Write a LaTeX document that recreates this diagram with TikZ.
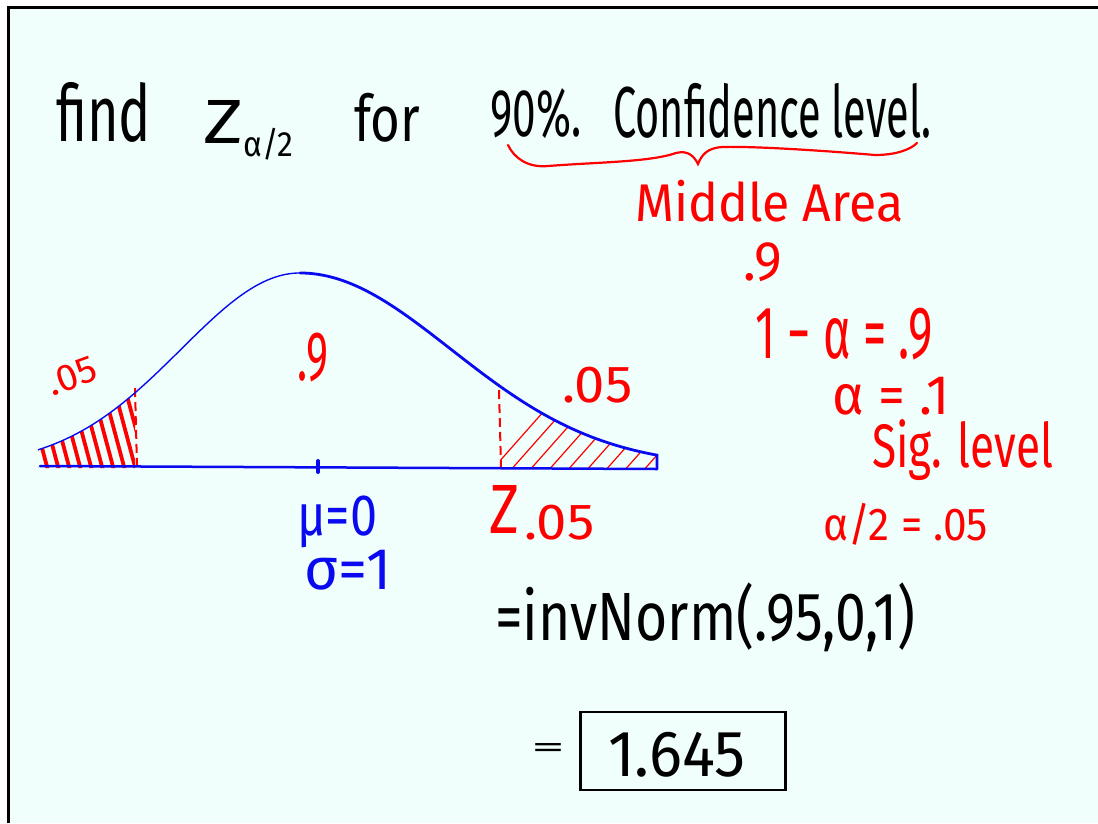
\documentclass[tikz,border=0pt]{standalone}
\usepackage{fontspec}
\usepackage{graphicx}
\newfontfamily\hand{Fira Sans}
\definecolor{board}{RGB}{241,255,252}
\definecolor{penred}{RGB}{255,0,0}
\definecolor{penblue}{RGB}{10,10,240}
\newcommand{\hw}[3]{\resizebox*{#1pt}{#2pt}{\hand #3}}
\begin{document}
\begin{tikzpicture}[x=1pt,y=-1pt,
  handtext/.style={inner sep=0pt, anchor=north west},
  redtext/.style={handtext, text=penred},
  bluetext/.style={handtext, text=penblue},
  hatchthick/.style={penred, line width=3.8pt, line cap=round},
  hatchthin/.style={penred, line width=1.2pt},
  cut/.style={penred, line width=2pt, dash pattern=on 9pt off 5pt}]
\useasboundingbox (0,0) rectangle (1098,823);
\fill[white] (0,0) rectangle (1098,823);
\fill[board] (8,7) rectangle (1098,823);
\draw[black, line width=3pt] (8,823) -- (8,7) -- (1098,7);

% title
\node[handtext] (find) at (56,82) {\hw{95}{60}{find}};
\node[handtext] (z) at (203,100) {\hw{40}{43}{Z}};
\node[handtext] (zsub) at (243,128) {\hw{50}{32}{α/2}};
\node[handtext] (for) at (354,93) {\hw{66}{49}{for}};
\node[handtext] (ninety) at (490,88) {\hw{91}{50}{90\%.}};
\node[handtext] (conf) at (613,83) {\hw{318}{55}{Confidence level.}};
\draw[penred, line width=2.2pt, line cap=round]
  (508,145) .. controls (514,158) and (528,168) .. (548,166)
  .. controls (600,162) and (650,162) .. (676,153)
  .. controls (688,150) and (694,156) .. (698,164)
  .. controls (702,154) and (708,148) .. (722,147)
  .. controls (760,146) and (840,152) .. (875,155)
  .. controls (895,155) and (910,150) .. (917,143);

% right column
\node[redtext] (middle) at (635,180) {\hw{268}{42}{Middle Area}};
\node[redtext] (pt9a) at (743,243) {\hw{39}{39}{.9}};
\node[redtext] (onemin) at (755,308) {\hw{178}{52}{1 − α = .9}};
\node[redtext] (alpha) at (832,377) {\hw{118}{38}{α = .1}};
\node[redtext] (sig) at (872,419) {\hw{181}{61}{Sig. level}};
\node[redtext] (half) at (823,503) {\hw{165}{42}{α/2 = .05}};

% hatching
\begin{scope}
\clip plot[domain=38:135, samples=40] (\x, {467-194*exp(-0.5*pow((\x-300)/119,2))}) -- (135,468) -- (38,468) -- cycle;
\foreach \k in {0,...,10} \draw[hatchthick] ({38+\k*11},474) -- ({16+\k*11},392);
\end{scope}
\begin{scope}
\clip plot[domain=500:657, samples=40] (\x, {467-194*exp(-0.5*pow((\x-300)/151,2))}) -- (657,469) -- (500,467) -- cycle;
\foreach \k in {0,...,8} \draw[hatchthin] ({490+\k*19},472) -- ({552+\k*19},402);
\end{scope}
\draw[cut] (135,388) -- (137,467);
\draw[cut] (499,390) -- (501,467);

% curve
\draw[penblue, line width=1.4pt] plot[domain=38:300, samples=80] (\x, {467-194*exp(-0.5*pow((\x-300)/119,2))});
\draw[penblue, line width=2.8pt, line cap=round] plot[domain=300:657, samples=90] (\x, {467-194*exp(-0.5*pow((\x-300)/151,2))}) -- (657,469);
\draw[penblue, line width=2.5pt, line cap=round] (40,466) -- (657,469);
\draw[penblue, line width=4pt, line cap=round] (318,461) -- (318,472);

% curve labels
\node[redtext, anchor=center, rotate=20] (lefttail) at (72,376) {\hw{50}{26}{.05}};
\node[redtext] (mid9) at (297,333) {\hw{31}{49}{.9}};
\node[redtext] (righttail) at (562,367) {\hw{70}{36}{.05}};
\node[bluetext] (mu) at (297,496) {\hw{80}{52}{μ=0}};
\node[bluetext] (sigma) at (304,550) {\hw{87}{40}{σ=1}};
\node[redtext] (zcrit) at (489,485) {\hw{30}{48}{Z}};
\node[redtext] (zcritsub) at (524,505) {\hw{70}{35}{.05}};

% computation
\node[handtext] (inv) at (495,583) {\hw{420}{69}{=invNorm(.95,0,1)}};
\node[handtext] (eq) at (531,743) {\hw{34}{14}{=}};
\node[draw=black, line width=2.8pt, minimum width=205pt, minimum height=78pt, inner sep=0pt] (box) at (683,751) {};
\node[handtext] (val) at (608,732) {\hw{137}{45}{1.645}};
\end{tikzpicture}
\end{document}
